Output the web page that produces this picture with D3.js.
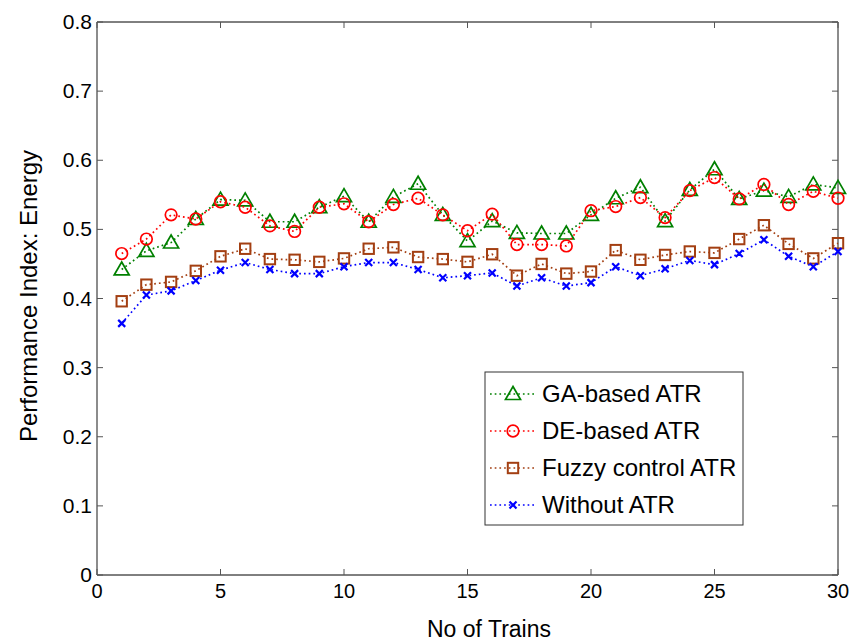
<!DOCTYPE html>
<html>
<head>
<meta charset="utf-8">
<script src="https://cdn.jsdelivr.net/npm/d3@7"></script>
<style>
  body { margin: 0; background: #fff; }
  svg { display: block; font-family: "Liberation Sans", Arial, sans-serif; }
</style>
</head>
<body>
<svg id="chart" width="851" height="644"></svg>
<script>
const trains = d3.range(1, 31);

const gaBased = [0.442, 0.469, 0.481, 0.515, 0.543, 0.542, 0.511, 0.511, 0.532, 0.548,
  0.511, 0.547, 0.566, 0.521, 0.483, 0.512, 0.495, 0.494, 0.494, 0.521,
  0.545, 0.561, 0.512, 0.557, 0.587, 0.544, 0.556, 0.547, 0.565, 0.560];
const deBased = [0.465, 0.486, 0.521, 0.515, 0.540, 0.532, 0.505, 0.497, 0.532, 0.537,
  0.511, 0.536, 0.545, 0.521, 0.498, 0.522, 0.478, 0.478, 0.476, 0.527,
  0.533, 0.546, 0.517, 0.556, 0.575, 0.544, 0.565, 0.536, 0.555, 0.545];
const fuzzy = [0.396, 0.420, 0.424, 0.440, 0.461, 0.472, 0.457, 0.456, 0.453, 0.458,
  0.472, 0.474, 0.460, 0.457, 0.453, 0.464, 0.433, 0.450, 0.436, 0.439,
  0.470, 0.456, 0.463, 0.468, 0.466, 0.486, 0.506, 0.479, 0.458, 0.480];
const withoutAtr = [0.364, 0.405, 0.411, 0.426, 0.441, 0.452, 0.442, 0.436, 0.436, 0.446,
  0.452, 0.452, 0.442, 0.430, 0.433, 0.437, 0.418, 0.430, 0.418, 0.423,
  0.446, 0.433, 0.443, 0.455, 0.449, 0.465, 0.485, 0.461, 0.446, 0.468];

const seriesNames = ["GA-based ATR", "DE-based ATR", "Fuzzy control ATR", "Without ATR"];
const xTicks = [0, 5, 10, 15, 20, 25, 30];
const yTicks = [0, 0.1, 0.2, 0.3, 0.4, 0.5, 0.6, 0.7, 0.8];

const series = [
  { name: seriesNames[0], values: gaBased, color: "#008000", marker: "triangle" },
  { name: seriesNames[1], values: deBased, color: "#ff0000", marker: "circle" },
  { name: seriesNames[2], values: fuzzy, color: "#a33f12", marker: "square" },
  { name: seriesNames[3], values: withoutAtr, color: "#0000ff", marker: "cross" }
];

const svg = d3.select("#chart");
const plotL = 97, plotR = 838, plotT = 22, plotB = 575;

const x = d3.scaleLinear().domain([0, 30]).range([plotL, plotR]);
const y = d3.scaleLinear().domain([0, 0.8]).range([plotB, plotT]);

// axes box
const tickLen = 6;
const axisG = svg.append("g");
axisG.append("line").attr("x1", plotL).attr("x2", plotR).attr("y1", plotT).attr("y2", plotT).attr("stroke", "#000");
axisG.append("line").attr("x1", plotL).attr("x2", plotR).attr("y1", plotB).attr("y2", plotB).attr("stroke", "#000");
axisG.append("line").attr("x1", plotL).attr("x2", plotL).attr("y1", plotT).attr("y2", plotB).attr("stroke", "#666").attr("stroke-width", 1.5);
axisG.append("line").attr("x1", plotR).attr("x2", plotR).attr("y1", plotT).attr("y2", plotB).attr("stroke", "#666").attr("stroke-width", 1.5);

xTicks.forEach(t => {
  axisG.append("line").attr("x1", x(t)).attr("x2", x(t)).attr("y1", plotB).attr("y2", plotB - tickLen).attr("stroke", "#555");
  axisG.append("line").attr("x1", x(t)).attr("x2", x(t)).attr("y1", plotT).attr("y2", plotT + tickLen).attr("stroke", "#555");
  axisG.append("text").attr("x", x(t)).attr("y", plotB + 23)
    .attr("text-anchor", "middle").attr("font-size", 20)
    .text(t);
});
yTicks.forEach(t => {
  axisG.append("line").attr("x1", plotL).attr("x2", plotL + tickLen).attr("y1", y(t)).attr("y2", y(t)).attr("stroke", "#555");
  axisG.append("line").attr("x1", plotR).attr("x2", plotR - tickLen).attr("y1", y(t)).attr("y2", y(t)).attr("stroke", "#555");
  axisG.append("text").attr("x", plotL - 5).attr("y", y(t) + 7)
    .attr("text-anchor", "end").attr("font-size", 21)
    .text(t === 0 ? "0" : t.toFixed(1));
});

svg.append("text").attr("x", 489).attr("y", 637)
  .attr("text-anchor", "middle").attr("font-size", 23)
  .text("No of Trains");
svg.append("text").attr("transform", "translate(37,296) rotate(-90)")
  .attr("text-anchor", "middle").attr("font-size", 24)
  .text("Performance Index: Energy");

function drawMarker(g, kind, color) {
  if (kind === "triangle") {
    g.append("path").attr("d", "M0,-7.5 L7.5,5.5 L-7.5,5.5 Z").attr("fill", "none").attr("stroke", color).attr("stroke-width", 1.7);
  } else if (kind === "circle") {
    g.append("circle").attr("r", 5.8).attr("fill", "none").attr("stroke", color).attr("stroke-width", 1.7);
  } else if (kind === "square") {
    g.append("rect").attr("x", -5.2).attr("y", -5.2).attr("width", 10.4).attr("height", 10.4)
      .attr("fill", "none").attr("stroke", color).attr("stroke-width", 2);
  } else {
    g.append("path").attr("d", "M-3.5,-3.5 L3.5,3.5 M-3.5,3.5 L3.5,-3.5").attr("stroke", color).attr("stroke-width", 2.2);
  }
}

const line = d3.line().x((d, i) => x(trains[i])).y(d => y(d));

series.forEach(s => {
  const g = svg.append("g");
  g.append("path").attr("d", line(s.values)).attr("fill", "none")
    .attr("stroke", s.color).attr("stroke-width", 1.7).attr("stroke-dasharray", "1.7,3");
  s.values.forEach((v, i) => {
    const m = g.append("g").attr("transform", `translate(${x(trains[i])},${y(v)})`);
    drawMarker(m, s.marker, s.color);
  });
});

// legend
const lg = svg.append("g");
lg.append("rect").attr("x", 485).attr("y", 372).attr("width", 258).attr("height", 153)
  .attr("fill", "#fff").attr("stroke", "#333");
series.forEach((s, i) => {
  const cy = 394 + i * 37;
  lg.append("line").attr("x1", 490).attr("x2", 535).attr("y1", cy).attr("y2", cy)
    .attr("stroke", s.color).attr("stroke-width", 1.7).attr("stroke-dasharray", "1.7,3");
  const m = lg.append("g").attr("transform", `translate(513,${cy})`);
  drawMarker(m, s.marker, s.color);
  lg.append("text").attr("x", 542).attr("y", cy + 8).attr("font-size", 24).text(s.name);
});
</script>
</body>
</html>
